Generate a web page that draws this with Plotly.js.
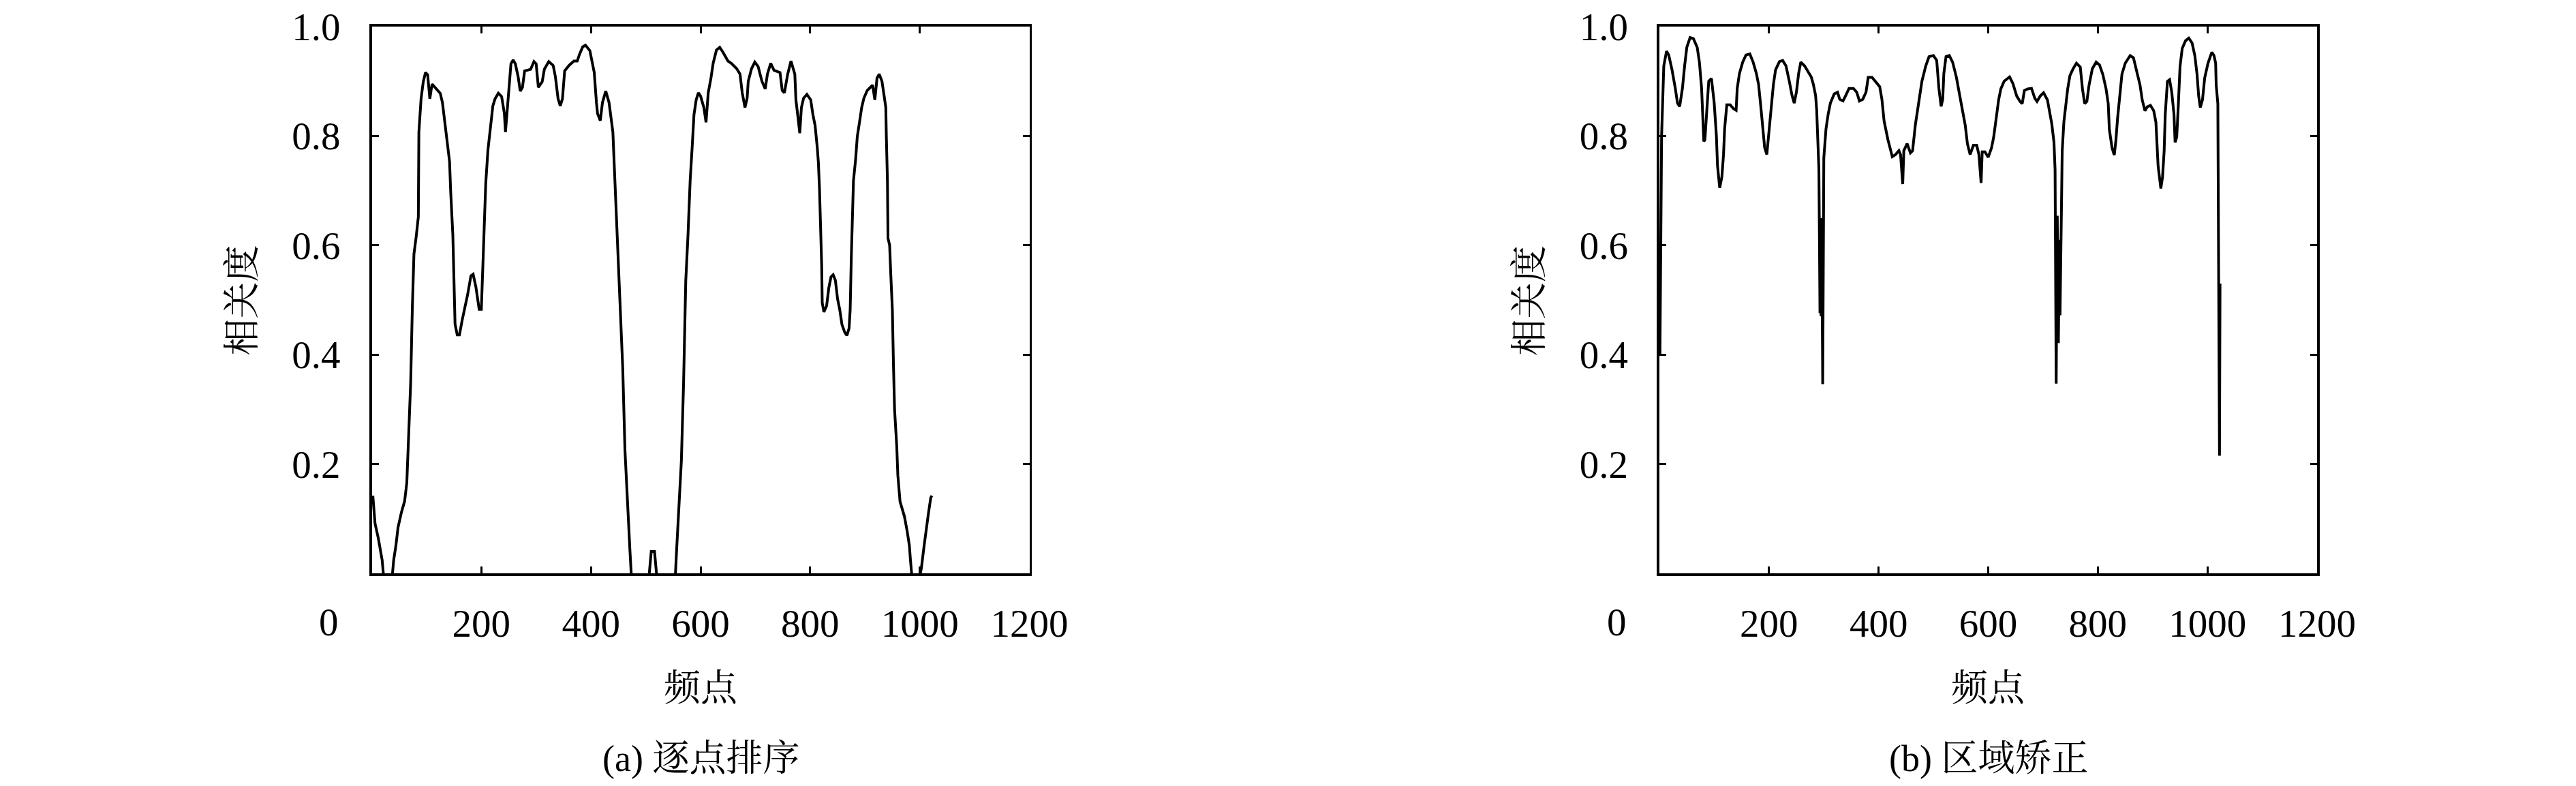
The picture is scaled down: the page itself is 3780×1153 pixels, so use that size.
<!DOCTYPE html>
<html>
<head>
<meta charset="utf-8">
<script src="https://cdn.plot.ly/plotly-3.0.1.min.js"></script>
<style>
html,body{margin:0;padding:0;background:#fff;}
#chart{width:3780px;height:1153px;}
</style>
</head>
<body>
<div id="chart"></div>
<script>
// ---------- data ----------
// (a) 逐点排序
const aFreq = [2,6,12,19,22,30,37,40,44,48,54,60,64,67,71,74,77,81,85,86,90,94,98,102,106,110,119,125,129,133,137,142,144,148,150,152,156,160,165,171,175,181,185,190,196,200,204,206,208,212,217,221,225,231,237,242,244,248,250,254,258,262,267,271,275,279,290,296,300,304,311,315,323,331,335,340,344,348,352,360,369,375,379,385,390,398,402,406,410,412,417,421,427,433,440,444,448,452,456,458,462,467,471,474,485,500,506,510,516,520,530,545,554,556,560,565,569,571,573,577,581,585,588,592,596,600,606,610,614,619,623,629,635,641,650,656,666,672,676,681,685,687,693,699,705,712,718,722,728,734,745,749,753,759,765,772,774,778,781,784,788,794,801,805,809,813,815,817,819,821,822,825,830,834,838,842,846,850,854,858,863,867,871,873,875,877,879,883,886,890,894,898,904,910,914,918,922,926,931,935,938,939,941,942,945,947,950,952,954,958,960,964,968,972,977,981,983,986,994,1001,1003,1008,1012,1016,1020,1022];
const aCorr = [0.142,0.091,0.064,0.024,-0.01,-0.04,-0.01,0.024,0.05,0.084,0.111,0.132,0.166,0.233,0.348,0.483,0.584,0.615,0.652,0.807,0.868,0.899,0.916,0.912,0.868,0.895,0.885,0.878,0.861,0.828,0.794,0.753,0.699,0.618,0.537,0.456,0.436,0.436,0.463,0.49,0.51,0.544,0.547,0.524,0.483,0.483,0.584,0.652,0.713,0.774,0.814,0.855,0.868,0.878,0.872,0.841,0.807,0.855,0.889,0.932,0.939,0.932,0.909,0.882,0.889,0.919,0.922,0.936,0.932,0.889,0.899,0.922,0.936,0.929,0.909,0.868,0.855,0.868,0.919,0.929,0.937,0.937,0.949,0.963,0.966,0.956,0.936,0.916,0.861,0.841,0.828,0.861,0.882,0.861,0.807,0.713,0.618,0.537,0.443,0.375,0.226,0.111,0.044,-0.01,-0.08,-0.03,-0.005,0.04,0.04,-0.005,-0.05,-0.05,-0.005,0.037,0.111,0.206,0.348,0.44,0.535,0.617,0.718,0.785,0.839,0.866,0.879,0.873,0.852,0.825,0.879,0.906,0.933,0.957,0.962,0.953,0.937,0.933,0.923,0.913,0.879,0.852,0.869,0.9,0.923,0.935,0.927,0.9,0.886,0.913,0.933,0.92,0.916,0.883,0.879,0.913,0.937,0.913,0.866,0.832,0.805,0.852,0.869,0.876,0.866,0.839,0.819,0.778,0.751,0.704,0.644,0.563,0.495,0.478,0.489,0.522,0.542,0.546,0.536,0.502,0.482,0.455,0.441,0.435,0.448,0.482,0.576,0.65,0.718,0.758,0.799,0.825,0.852,0.869,0.883,0.889,0.893,0.866,0.906,0.913,0.9,0.873,0.852,0.799,0.718,0.613,0.6,0.549,0.482,0.381,0.3,0.232,0.179,0.131,0.118,0.104,0.077,0.051,0.024,-0.01,-0.04,-0.005,0.01,0.051,0.077,0.111,0.138,0.142];

// (b) 区域矫正
const bFreq = [1,3,4,8,13,17,23,29,33,37,42,46,50,56,62,69,73,77,79,81,83,86,90,95,100,104,106,110,114,117,119,123,129,135,140,142,146,152,158,165,171,177,181,185,190,192,196,200,204,208,212,219,225,231,237,242,246,250,254,258,265,271,277,281,285,287,289,291,292,293,294,295,296,298,300,304,308,312,319,325,329,335,340,346,354,360,365,371,377,381,388,394,402,406,410,417,421,425,431,437,440,444,446,452,458,462,467,473,479,486,492,500,506,510,514,517,519,523,529,535,542,548,554,558,562,567,573,579,583,587,589,594,600,606,610,614,619,623,629,639,645,652,658,662,666,672,679,685,689,695,701,708,712,716,720,722,724,726,728,730,731,735,738,742,745,749,755,761,768,772,776,780,784,790,797,803,809,815,819,821,826,830,833,836,840,844,850,859,865,871,877,881,886,890,896,902,906,908,910,915,918,921,923,927,931,935,939,941,944,947,950,954,960,966,972,977,981,984,987,991,995,1001,1008,1012,1015,1016,1019,1022,1023];
const bCorr = [0.4,0.62,0.8,0.928,0.955,0.948,0.921,0.887,0.86,0.854,0.887,0.928,0.962,0.98,0.978,0.962,0.935,0.887,0.827,0.79,0.793,0.847,0.9,0.905,0.86,0.8,0.746,0.705,0.725,0.766,0.813,0.857,0.857,0.85,0.847,0.887,0.914,0.935,0.948,0.95,0.935,0.914,0.894,0.854,0.806,0.779,0.766,0.806,0.847,0.894,0.921,0.936,0.938,0.928,0.9,0.874,0.86,0.88,0.914,0.935,0.928,0.918,0.908,0.894,0.874,0.847,0.8,0.74,0.617,0.476,0.61,0.47,0.65,0.346,0.76,0.813,0.84,0.86,0.877,0.88,0.867,0.864,0.874,0.887,0.887,0.88,0.864,0.867,0.88,0.907,0.907,0.9,0.89,0.867,0.827,0.793,0.779,0.762,0.766,0.773,0.766,0.712,0.773,0.786,0.769,0.773,0.82,0.86,0.9,0.928,0.945,0.947,0.938,0.887,0.854,0.867,0.914,0.945,0.947,0.935,0.907,0.874,0.84,0.82,0.786,0.766,0.783,0.783,0.766,0.714,0.771,0.771,0.761,0.778,0.798,0.832,0.866,0.886,0.9,0.908,0.896,0.873,0.863,0.859,0.883,0.886,0.887,0.869,0.863,0.873,0.879,0.866,0.846,0.822,0.788,0.738,0.347,0.654,0.421,0.61,0.472,0.772,0.825,0.866,0.886,0.91,0.923,0.933,0.926,0.886,0.859,0.863,0.893,0.923,0.935,0.93,0.913,0.886,0.859,0.812,0.778,0.765,0.792,0.832,0.879,0.913,0.933,0.947,0.943,0.92,0.893,0.866,0.846,0.853,0.856,0.846,0.825,0.785,0.745,0.704,0.724,0.772,0.839,0.9,0.903,0.879,0.839,0.788,0.798,0.859,0.927,0.96,0.974,0.979,0.97,0.947,0.913,0.873,0.852,0.866,0.906,0.933,0.953,0.947,0.933,0.893,0.859,0.215,0.53];

// tick labels
const xTickVals = [200, 400, 600, 800, 1000, 1200];
const xTickText = ['200', '400', '600', '800', '1000', '1200'];
const yTickVals = [0.2, 0.4, 0.6, 0.8, 1.0];
const yTickText = ['0.2', '0.4', '0.6', '0.8', '1.0'];

// texts
const xTitle = '频点';
const yTitle = '相关度';
const captionA = '(a) 逐点排序';
const captionB = '(b) 区域矫正';

// ---------- layout ----------
const W = 3780, H = 1153;
const NUM = '"Liberation Serif", "DejaVu Serif", serif';
const CJK = '"Liberation Serif", "Noto Serif CJK SC", "Noto Sans CJK SC", serif';
const px = v => v / W;
const py = v => 1 - v / H;

function xAxis(l, r) {
  return {
    domain: [px(l), px(r)], range: [0, 1200],
    tickmode: 'array', tickvals: xTickVals, ticktext: xTickText,
    ticks: 'inside', ticklen: 10, tickwidth: 3, tickcolor: '#000',
    showline: true, linewidth: 3.6, linecolor: '#000', mirror: 'ticks',
    showgrid: false, zeroline: false, ticklabelstandoff: 21,
    tickfont: {family: NUM, size: 57, color: '#000'}, fixedrange: true
  };
}
function yAxis(anchor) {
  return {
    domain: [py(841), py(39)], range: [0, 1], anchor: anchor,
    tickmode: 'array', tickvals: yTickVals, ticktext: yTickText,
    ticks: 'inside', ticklen: 10, tickwidth: 3, tickcolor: '#000',
    showline: true, linewidth: 3.6, linecolor: '#000', mirror: 'ticks',
    showgrid: false, zeroline: false, ticklabelstandoff: 31,
    tickfont: {family: NUM, size: 57, color: '#000'}, fixedrange: true
  };
}

const plots = [
  {l: 545.5, r: 1510.5, cap: captionA},
  {l: 2435, r: 3400, cap: captionB}
];

const annotations = [];
plots.forEach(p => {
  const cx = (p.l + p.r) / 2;
  annotations.push({xref: 'paper', yref: 'paper', x: px(p.l - 63), y: py(912), text: '0',
    showarrow: false, xanchor: 'center', yanchor: 'middle', font: {family: NUM, size: 57, color: '#000'}});
  annotations.push({xref: 'paper', yref: 'paper', x: px(cx), y: py(1010), text: xTitle,
    showarrow: false, xanchor: 'center', yanchor: 'middle', font: {family: CJK, size: 54, color: '#000'}});
  annotations.push({xref: 'paper', yref: 'paper', x: px(cx), y: py(1113), text: p.cap,
    showarrow: false, xanchor: 'center', yanchor: 'middle', font: {family: CJK, size: 54, color: '#000'}});
  annotations.push({xref: 'paper', yref: 'paper', x: px(p.l - 190), y: py(441), text: yTitle, textangle: -90,
    showarrow: false, xanchor: 'center', yanchor: 'middle', font: {family: CJK, size: 54, color: '#000'}});
});

const traces = [
  {x: aFreq, y: aCorr, xaxis: 'x', yaxis: 'y', type: 'scatter', mode: 'lines',
   line: {color: '#000', width: 4}, hoverinfo: 'skip'},
  {x: bFreq, y: bCorr, xaxis: 'x2', yaxis: 'y2', type: 'scatter', mode: 'lines',
   line: {color: '#000', width: 4}, hoverinfo: 'skip'}
];

const layout = {
  width: W, height: H,
  margin: {l: 0, r: 0, t: 0, b: 0, pad: 0},
  paper_bgcolor: '#fff', plot_bgcolor: '#fff',
  showlegend: false,
  xaxis: Object.assign(xAxis(plots[0].l, plots[0].r), {anchor: 'y'}),
  yaxis: yAxis('x'),
  xaxis2: Object.assign(xAxis(plots[1].l, plots[1].r), {anchor: 'y2'}),
  yaxis2: yAxis('x2'),
  annotations: annotations
};

Plotly.newPlot('chart', traces, layout, {staticPlot: true, displayModeBar: false});
</script>
</body>
</html>
